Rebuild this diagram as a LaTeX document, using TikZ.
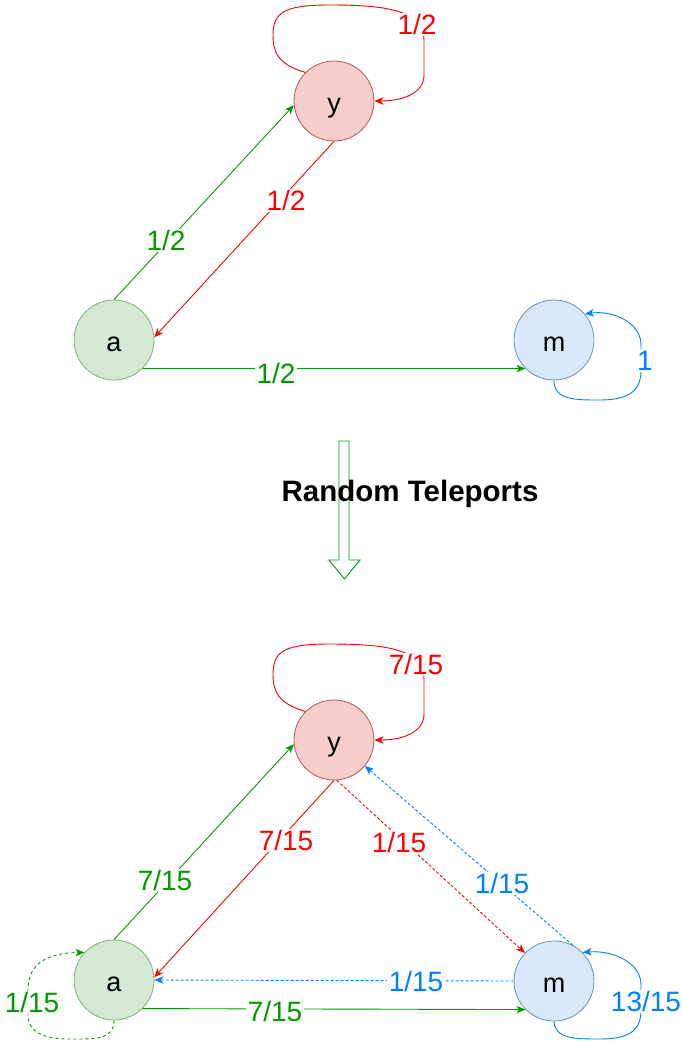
\documentclass[tikz,border=0pt]{standalone}
\usepackage{fontspec}
\setmainfont{Liberation Sans}
\usetikzlibrary{arrows.meta}
\definecolor{cgreen}{RGB}{0,153,0}
\definecolor{cred}{RGB}{255,0,0}
\definecolor{cblue}{RGB}{0,127,255}
\definecolor{yfill}{HTML}{F8CECC}\definecolor{ystroke}{HTML}{B85450}
\definecolor{afill}{HTML}{D5E8D4}\definecolor{astroke}{HTML}{82B366}
\definecolor{mfill}{HTML}{DAE8FC}\definecolor{mstroke}{HTML}{6C8EBF}
\begin{document}
\begin{tikzpicture}[x=1pt,y=-1pt,
  state/.style={circle, minimum size=80pt, inner sep=0pt, line width=0.8pt,
    font=\fontsize{27}{30}\selectfont, text height=22pt, text depth=0pt},
  ystate/.style={state, fill=yfill, draw=ystroke},
  astate/.style={state, fill=afill, draw=astroke},
  mstate/.style={state, fill=mfill, draw=mstroke},
  conn/.style={line width=0.9pt, -{Stealth[length=9pt,width=7.5pt,inset=2.5pt]}},
  dotted edge/.style={dash pattern=on 3pt off 2pt},
  lbl/.style={fill=white, inner sep=1.5pt, font=\fontsize{28}{30}\selectfont,
    text height=20pt, text depth=0pt}
]
\useasboundingbox (0,0) rectangle (682,1041);

% ---------- top graph ----------
\node[ystate] (y1) at (334,101) {y};
\node[astate] (a1) at (114,340) {a};
\node[mstate] (m1) at (554,340) {m};

\draw[conn,cgreen] (a1.north) -- (y1.186);
\draw[conn,cred] (y1.south) -- (a1.4);
\draw[conn,cgreen] (a1.-45) -- (m1.225);
\draw[conn,cred] (y1.135) .. controls (276,64) and (273,50) .. (273,35)
  .. controls (273,12) and (285,5) .. (330,5)
  .. controls (385,5) and (424,10) .. (424,40) -- (424,75)
  .. controls (424,92) and (405,101) .. (y1.east);
\draw[conn,cblue] (m1.south) .. controls (554,400) and (575,400) .. (600,400)
  .. controls (630,400) and (641,390) .. (641,370) -- (641,345)
  .. controls (641,322) and (612,310) .. (m1.40);

\node[lbl,text=cgreen] (l1) at (166,240) {1/2};
\node[lbl,text=cred] (l2) at (286,200) {1/2};
\node[lbl,text=cgreen] (l3) at (276,373) {1/2};
\node[lbl,text=cred] (l4) at (417,25) {1/2};
\node[lbl,text=cblue] (l5) at (645,360) {1};

% ---------- block arrow ----------
\draw[cgreen, line width=0.9pt, fill=white] (339,441) -- (349,441) -- (349,560)
  -- (360,560) -- (344.5,579) -- (329,560) -- (339,560) -- cycle;
\node[font=\bfseries\fontsize{29.5}{32}\selectfont, anchor=base] (title) at (410,501) {Random Teleports};

% ---------- bottom graph ----------
\node[ystate] (y2) at (334,740) {y};
\node[astate] (a2) at (114,980) {a};
\node[mstate] (m2) at (554,981) {m};

\draw[conn,cgreen] (a2.north) -- (y2.186);
\draw[conn,cred] (y2.south) -- (a2.4);
\draw[conn,cred,dotted edge] (y2.-86) -- (m2.136);
\draw[conn,cblue,dotted edge] (m2.62) -- (y2.-40);
\draw[conn,cblue,dotted edge] (m2.west) -- (a2.east);
\draw[conn,cgreen] (a2.-45) -- (m2.225);
\draw[conn,cred] (y2.135) .. controls (276,703) and (273,689) .. (273,674)
  .. controls (273,651) and (285,644) .. (330,644)
  .. controls (385,644) and (424,649) .. (424,679) -- (424,714)
  .. controls (424,731) and (405,740) .. (y2.east);
\draw[conn,cblue] (m2.south) .. controls (555,1039) and (575,1039) .. (600,1039)
  .. controls (630,1039) and (641,1030) .. (641,1010) -- (641,985)
  .. controls (641,962) and (612,950) .. (m2.45);
\draw[conn,cgreen,dash pattern=on 3pt off 3pt] (a2.south) .. controls (114,1040) and (95,1039) .. (70,1039)
  .. controls (40,1039) and (28,1030) .. (28,1015) -- (28,990)
  .. controls (28,965) and (45,953) .. (a2.137);

\node[lbl,text=cgreen] (b1) at (165,880) {7/15};
\node[lbl,text=cred] (b2) at (286,840) {7/15};
\node[lbl,text=cred] (b3) at (399,842) {1/15};
\node[lbl,text=cblue] (b4) at (502,883) {1/15};
\node[lbl,text=cblue] (b5) at (416,981) {1/15};
\node[lbl,text=cgreen] (b6) at (275,1011) {7/15};
\node[lbl,text=cred] (b7) at (416,664) {7/15};
\node[lbl,text=cgreen] (b8) at (32,1002) {1/15};
\node[lbl,text=cblue] (b9) at (646,1001) {13/15};
\end{tikzpicture}
\end{document}
